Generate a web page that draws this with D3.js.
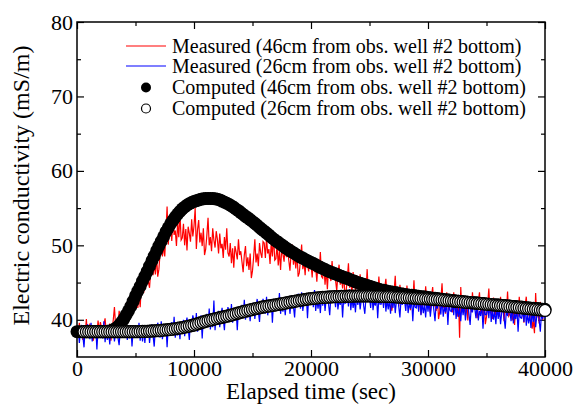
<!DOCTYPE html>
<html>
<head>
<meta charset="utf-8">
<script src="https://cdn.jsdelivr.net/npm/d3@7"></script>
<style>
  body { margin: 0; background: #fff; }
  svg { display: block; }
  text { font-family: "Liberation Serif", "Times New Roman", serif; fill: #000; }
</style>
</head>
<body>
<div id="chart"></div>
<script>
// measured series: one reading every 100 s, 0 .. 40000 s
const timeMeasured = d3.range(0, 40001, 100);
// computed series: one marker every 200 s
const timeComputed = d3.range(0, 40001, 200);

// Measured, 46cm from obs. well #2 bottom (mS/m)
const measured46 = [
  39.1,37.7,39.6,38.2,38.6,37.3,39.3,38.1,40.1,37.8,
  38.3,39.5,37.6,39.0,37.2,39.2,38.7,38.0,39.9,38.4,
  39.7,38.8,37.8,39.4,40.2,38.3,39.2,38.0,39.5,37.2,
  38.5,40.0,41.7,39.2,40.1,38.8,41.2,40.1,39.4,41.2,
  41.1,39.8,42.2,40.8,41.5,40.1,42.6,41.4,43.9,41.5,
  41.9,43.8,41.6,43.7,41.7,44.6,44.2,43.6,46.3,44.7,
  46.1,45.1,44.3,46.6,48.0,46.0,47.4,46.1,48.5,45.8,
  46.8,48.9,51.4,48.5,49.9,48.5,51.7,55.2,50.1,52.5,
  52.7,50.6,53.6,51.4,52.0,49.9,53.0,51.1,54.3,50.7,
  51.0,52.9,50.0,52.2,49.3,52.5,51.6,50.5,53.5,51.2,
  52.6,55.0,49.5,52.1,53.4,50.4,51.7,49.9,52.3,48.7,
  49.5,51.4,53.7,50.0,51.1,49.2,52.3,50.7,49.7,51.9,
  50.8,48.9,51.6,49.6,50.2,48.3,51.1,49.4,52.3,49.0,
  48.5,50.3,47.6,49.6,47.0,49.9,49.1,48.1,50.8,48.7,
  49.2,47.8,46.4,48.7,49.9,47.2,48.4,46.7,48.9,45.6,
  46.6,48.5,50.8,47.7,48.9,47.2,50.3,49.0,48.3,50.5,
  50.3,48.3,51.0,48.9,49.5,47.5,50.3,48.5,51.4,48.0,
  48.2,50.0,47.3,49.3,46.7,49.6,48.8,47.8,50.5,48.4,
  49.4,48.0,46.6,48.9,50.1,47.4,48.6,46.9,49.1,45.8,
  46.3,48.0,50.1,46.8,47.8,46.0,48.9,47.4,46.5,48.5,
  47.6,45.7,48.4,46.4,47.0,45.1,47.9,46.2,49.1,45.8,
  45.6,47.4,44.7,46.7,44.1,47.0,46.2,45.2,47.9,45.8,
  46.7,45.3,43.9,46.2,47.4,44.7,45.9,44.2,46.4,43.1,
  43.8,45.5,47.6,44.3,45.3,43.5,46.4,44.9,44.0,46.0,
  45.3,43.4,46.1,44.1,44.7,42.8,45.6,43.9,46.8,43.5,
  43.5,45.3,42.6,44.6,42.0,44.9,44.1,43.1,45.8,43.7,
  44.8,43.4,42.0,44.3,45.5,42.8,44.0,42.3,44.5,41.2,
  42.1,43.8,45.9,42.6,43.6,41.8,44.7,43.2,42.3,44.3,
  43.8,41.9,44.6,42.6,43.2,41.3,44.1,42.4,45.3,42.0,
  42.2,44.0,41.3,43.3,40.7,43.6,42.8,41.8,44.5,42.4,
  43.7,42.3,40.9,43.2,44.4,41.7,42.9,41.2,43.4,40.1,
  41.1,42.8,44.9,41.6,42.6,40.8,43.7,42.2,41.3,43.3,
  42.9,41.0,43.7,41.7,42.3,40.4,43.2,37.6,44.4,41.1,
  41.4,43.2,40.5,42.5,39.9,42.8,42.0,41.0,43.7,41.6,
  43.0,41.6,40.2,42.5,43.7,41.0,42.2,40.5,42.7,39.4,
  40.4,42.1,44.2,40.9,41.9,40.1,43.0,41.5,40.6,42.6,
  42.3,40.4,43.1,41.1,41.7,39.8,42.6,40.9,43.8,40.5,
  40.8,42.6,39.9,41.9,39.3,42.2,41.4,40.4,43.1,41.0,
  42.4,41.0,39.6,41.9,43.1,40.4,41.6,39.9,42.1,38.8,
  39.8,38.2,43.6,40.3,41.3,39.5,42.4,40.9,40.0,42.0,
  41.0
];

// Measured, 26cm from obs. well #2 bottom (mS/m)
const measured26 = [
  37.6,39.1,36.9,38.5,39.3,37.8,36.3,38.9,38.0,39.4,
  38.7,37.4,39.6,37.1,38.4,37.7,39.1,36.0,38.8,37.9,
  38.0,39.2,37.5,39.8,37.0,38.6,37.3,38.5,36.7,39.0,
  37.8,38.9,37.1,38.3,39.5,37.6,36.6,38.7,38.2,39.2,
  38.5,37.6,39.4,37.3,38.6,37.5,39.3,36.4,38.6,38.1,
  38.2,39.0,37.7,39.6,37.2,38.8,37.1,38.7,36.9,38.8,
  37.6,39.1,36.9,38.5,39.4,37.9,36.4,39.0,38.2,39.6,
  38.9,37.6,39.8,37.4,38.7,38.0,39.4,36.3,39.2,38.4,
  38.5,39.7,38.0,40.4,37.6,39.2,37.9,39.1,37.4,39.8,
  38.4,40.0,37.8,39.4,40.3,38.9,37.3,40.0,39.1,40.6,
  39.9,38.6,40.9,38.4,39.6,39.1,40.6,37.5,40.3,39.5,
  39.6,40.8,39.2,41.5,38.7,40.3,39.0,42.6,38.6,40.9,
  39.6,41.2,39.0,40.6,41.6,40.1,38.6,41.2,40.3,41.7,
  41.1,39.8,42.1,39.6,40.9,40.4,41.4,38.6,41.5,40.7,
  40.8,42.0,40.4,42.7,40.0,41.5,40.3,41.5,39.8,42.1,
  40.7,42.3,40.1,41.7,42.8,41.1,39.7,42.2,41.4,42.8,
  42.1,40.8,43.1,40.6,41.9,41.3,42.7,39.6,42.4,41.5,
  41.7,42.9,41.2,43.6,40.8,42.4,41.1,42.3,40.6,42.9,
  41.5,43.0,40.8,42.5,43.3,41.8,40.3,42.9,42.1,43.5,
  42.8,41.5,43.7,41.2,42.5,41.9,43.3,40.2,43.0,42.1,
  42.2,43.4,41.7,44.0,41.2,42.8,41.5,42.7,40.9,43.2,
  41.9,43.4,41.2,42.8,43.6,42.1,40.6,43.2,42.3,43.7,
  43.0,41.7,43.9,41.4,42.7,42.0,43.4,40.3,43.1,42.2,
  42.3,43.5,41.8,44.1,41.3,42.9,41.6,42.8,41.0,43.3,
  42.0,43.2,41.4,42.7,43.7,41.9,40.8,43.0,42.4,43.5,
  42.9,41.6,43.8,41.3,42.6,41.9,43.3,40.2,43.0,42.1,
  42.1,43.3,41.6,43.9,41.1,42.7,41.4,42.6,40.8,43.1,
  41.6,43.1,40.9,42.5,43.3,41.8,40.3,42.9,42.0,43.4,
  42.5,41.2,43.4,40.9,42.2,41.5,42.9,39.8,42.6,41.7,
  41.6,42.8,41.1,43.4,40.6,42.2,40.9,42.1,40.3,42.6,
  41.1,42.6,40.4,42.0,42.8,41.3,39.8,42.4,41.5,42.9,
  42.0,40.7,42.9,40.4,41.7,41.0,42.4,39.3,42.1,41.2,
  41.1,42.3,40.6,42.9,40.1,41.7,40.4,41.6,39.8,42.1,
  40.6,42.1,39.9,41.5,42.3,40.8,39.3,41.9,41.0,42.4,
  41.5,40.2,42.4,39.9,41.2,40.5,41.9,38.8,41.6,40.7,
  40.7,41.9,40.2,42.5,39.7,41.3,40.0,41.2,39.4,41.7,
  40.1,41.6,39.4,41.0,41.8,40.3,38.8,41.4,40.5,41.9,
  41.1,39.8,42.0,39.5,40.8,40.1,41.5,38.4,41.2,40.3,
  40.2,41.4,39.7,42.0,39.2,40.8,39.5,40.7,38.9,41.2,
  39.7,41.2,39.0,40.6,41.4,39.9,38.4,41.0,40.1,41.5,
  40.2
];

// Computed, 46cm from obs. well #2 bottom
const computed46 = [
  38.4,38.4,38.4,38.4,38.4,38.4,38.4,38.4,38.4,38.4,
  38.4,38.4,38.4,38.45,38.5,38.6,38.75,38.95,39.25,39.65,
  40.1,40.65,41.2,41.8,42.5,43.2,43.85,44.5,45.2,45.85,
  46.5,47.2,47.9,48.55,49.25,49.9,50.55,51.15,51.8,52.35,
  52.9,53.35,53.8,54.2,54.55,54.9,55.15,55.4,55.6,55.75,
  55.9,56.0,56.1,56.2,56.25,56.3,56.3,56.3,56.28,56.25,
  56.2,56.1,55.95,55.8,55.65,55.5,55.3,55.1,54.85,54.65,
  54.4,54.15,53.9,53.7,53.45,53.2,52.95,52.7,52.4,52.15,
  51.9,51.65,51.4,51.1,50.85,50.6,50.4,50.15,49.95,49.7,
  49.5,49.3,49.1,48.9,48.7,48.5,48.35,48.2,48.0,47.85,
  47.7,47.55,47.4,47.2,47.05,46.9,46.75,46.6,46.45,46.35,
  46.2,46.1,45.95,45.85,45.7,45.6,45.5,45.35,45.25,45.1,
  45.0,44.9,44.8,44.7,44.6,44.5,44.4,44.3,44.2,44.1,
  44.0,43.95,43.9,43.8,43.75,43.7,43.65,43.6,43.5,43.45,
  43.4,43.35,43.3,43.3,43.25,43.2,43.15,43.1,43.1,43.05,
  43.0,42.95,42.9,42.9,42.85,42.8,42.75,42.7,42.7,42.65,
  42.6,42.55,42.5,42.5,42.45,42.4,42.4,42.35,42.3,42.3,
  42.3,42.25,42.2,42.2,42.15,42.1,42.1,42.05,42.0,42.0,
  42.0,41.95,41.9,41.9,41.85,41.85,41.8,41.8,41.75,41.7,
  41.7,41.65,41.6,41.6,41.55,41.55,41.5,41.5,41.45,41.4,
  41.4
];

// Computed, 26cm from obs. well #2 bottom (first samples hidden under the 46cm marker)
const computed26 = [
  null,null,null,38.4,38.4,38.4,38.4,38.4,38.4,38.4,
  38.4,38.4,38.4,38.4,38.4,38.4,38.4,38.4,38.4,38.4,
  38.4,38.4,38.4,38.4,38.4,38.4,38.4,38.42,38.43,38.44,
  38.45,38.47,38.49,38.51,38.53,38.55,38.58,38.61,38.64,38.67,
  38.7,38.74,38.79,38.85,38.9,38.95,39.02,39.09,39.16,39.23,
  39.3,39.4,39.5,39.6,39.7,39.8,39.88,39.96,40.04,40.12,
  40.2,40.27,40.34,40.41,40.48,40.55,40.64,40.73,40.82,40.91,
  41.0,41.08,41.16,41.24,41.32,41.4,41.47,41.54,41.61,41.68,
  41.75,41.8,41.85,41.9,41.95,42.0,42.06,42.12,42.18,42.24,
  42.3,42.36,42.42,42.48,42.54,42.6,42.65,42.7,42.75,42.8,
  42.85,42.88,42.91,42.94,42.97,43.0,43.02,43.04,43.06,43.08,
  43.1,43.11,43.12,43.13,43.14,43.15,43.16,43.17,43.18,43.19,
  43.2,43.2,43.2,43.2,43.2,43.2,43.19,43.18,43.17,43.16,
  43.15,43.14,43.13,43.12,43.11,43.1,43.08,43.06,43.04,43.02,
  43.0,42.98,42.96,42.94,42.92,42.9,42.88,42.86,42.84,42.82,
  42.8,42.78,42.76,42.74,42.72,42.7,42.67,42.64,42.61,42.58,
  42.55,42.52,42.49,42.46,42.43,42.4,42.37,42.34,42.31,42.28,
  42.25,42.22,42.19,42.16,42.13,42.1,42.07,42.04,42.01,41.98,
  41.95,41.92,41.89,41.86,41.83,41.8,41.76,41.72,41.68,41.64,
  41.6,41.57,41.54,41.51,41.48,41.45,41.41,41.37,41.33,41.29,
  41.25
];

const xTicks = [0, 10000, 20000, 30000, 40000];
const yTicks = [40, 50, 60, 70, 80];
const legendLabels = [
  "Measured (46cm from obs. well #2 bottom)",
  "Measured (26cm from obs. well #2 bottom)",
  "Computed (46cm from obs. well #2 bottom)",
  "Computed (26cm from obs. well #2 bottom)"
];

const W = 576, H = 405;
const margin = { top: 22, right: 31, bottom: 48, left: 77 };
const width = W - margin.left - margin.right;
const height = H - margin.top - margin.bottom;

const svg = d3.select("#chart").append("svg")
  .attr("width", W)
  .attr("height", H);

const g = svg.append("g")
  .attr("transform", `translate(${margin.left},${margin.top})`);

const x = d3.scaleLinear().domain([0, 40000]).range([0, width]);
const y = d3.scaleLinear().domain([35, 80]).range([height, 0]);

// ticks, all pointing inward
const minorX = d3.range(5000, 40000, 10000);
const minorY = d3.range(45, 80, 10);

function styleAxis(sel) {
  sel.select(".domain").remove();
  sel.selectAll("line").attr("stroke", "#000").attr("stroke-width", 1.2);
  sel.selectAll("text").style("font-size", "22px").style("font-family", '"Liberation Serif", serif');
}

g.append("g").attr("transform", `translate(0,${height})`)
  .call(d3.axisBottom(x).tickValues(xTicks).tickSizeInner(-7).tickPadding(3).tickFormat(d3.format("d")))
  .call(styleAxis);
g.append("g").attr("transform", `translate(0,${height})`)
  .call(d3.axisBottom(x).tickValues(minorX).tickSizeInner(-4).tickFormat(""))
  .call(styleAxis);
g.append("g")
  .call(d3.axisTop(x).tickValues(xTicks).tickSizeInner(-7).tickFormat(""))
  .call(styleAxis);
g.append("g")
  .call(d3.axisTop(x).tickValues(minorX).tickSizeInner(-4).tickFormat(""))
  .call(styleAxis);

g.append("g")
  .call(d3.axisLeft(y).tickValues(yTicks).tickSizeInner(-7).tickPadding(4))
  .call(styleAxis);
g.append("g")
  .call(d3.axisLeft(y).tickValues(minorY).tickSizeInner(-4).tickFormat(""))
  .call(styleAxis);
g.append("g").attr("transform", `translate(${width},0)`)
  .call(d3.axisRight(y).tickValues(yTicks).tickSizeInner(-7).tickFormat(""))
  .call(styleAxis);
g.append("g").attr("transform", `translate(${width},0)`)
  .call(d3.axisRight(y).tickValues(minorY).tickSizeInner(-4).tickFormat(""))
  .call(styleAxis);

// frame
g.append("rect")
  .attr("width", width)
  .attr("height", height)
  .attr("fill", "none")
  .attr("stroke", "#000")
  .attr("stroke-width", 1.5);

// measured lines
const line = d3.line()
  .x(d => x(d[0]))
  .y(d => y(d[1]));

g.append("path")
  .datum(timeMeasured.map((t, i) => [t, measured46[i]]))
  .attr("fill", "none")
  .attr("stroke", "#ff0000")
  .attr("stroke-width", 1.2)
  .attr("d", line);

g.append("path")
  .datum(timeMeasured.map((t, i) => [t, measured26[i]]))
  .attr("fill", "none")
  .attr("stroke", "#0000ff")
  .attr("stroke-width", 1.2)
  .attr("d", line);

// computed markers
g.selectAll(".c46")
  .data(timeComputed.map((t, i) => [t, computed46[i]]))
  .enter().append("circle")
  .attr("class", "c46")
  .attr("cx", d => x(d[0]))
  .attr("cy", d => y(d[1]))
  .attr("r", 6.5)
  .attr("fill", "#000");

g.selectAll(".c26")
  .data(timeComputed.map((t, i) => [t, computed26[i]]).filter(d => d[1] != null))
  .enter().append("circle")
  .attr("class", "c26")
  .attr("cx", d => x(d[0]))
  .attr("cy", d => y(d[1]))
  .attr("r", 6)
  .attr("fill", "#fff")
  .attr("stroke", "#000")
  .attr("stroke-width", 1.3);

// axis titles
svg.append("text")
  .attr("x", margin.left + width / 2)
  .attr("y", 399)
  .attr("text-anchor", "middle")
  .style("font-size", "23px")
  .text("Elapsed time (sec)");

svg.append("text")
  .attr("transform", `translate(29,${margin.top + height / 2 - 4}) rotate(-90)`)
  .attr("text-anchor", "middle")
  .style("font-size", "24px")
  .text("Electric conductivity (mS/m)");

// legend
const legend = svg.append("g").attr("transform", "translate(126,46)");
const rowY = [0, 20, 41.5, 62.5];
const items = legend.selectAll(".item")
  .data(legendLabels)
  .enter().append("g")
  .attr("transform", (d, i) => `translate(0,${rowY[i]})`);

items.filter((d, i) => i < 2).append("line")
  .attr("x1", 0).attr("x2", 40)
  .attr("stroke", (d, i) => i === 0 ? "#ff0000" : "#0000ff")
  .attr("stroke-width", 1.2);

items.filter((d, i) => i === 2).append("circle")
  .attr("cx", 20).attr("r", 5).attr("fill", "#000");
items.filter((d, i) => i === 3).append("circle")
  .attr("cx", 20).attr("r", 4.5).attr("fill", "#fff")
  .attr("stroke", "#000").attr("stroke-width", 1.2);

items.append("text")
  .attr("x", 46)
  .attr("dy", "0.34em")
  .style("font-size", "20px")
  .text(d => d);
</script>
</body>
</html>
